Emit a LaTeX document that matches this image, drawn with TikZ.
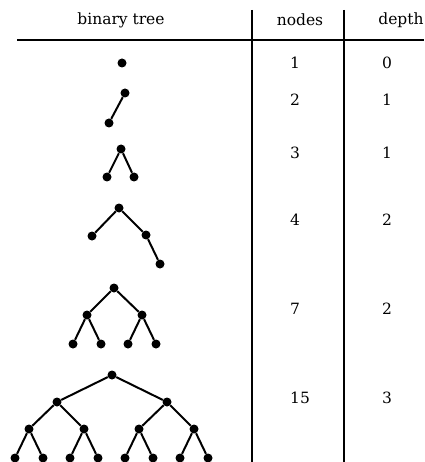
\documentclass[tikz,border=0pt]{standalone}
\usepackage{fontspec}
\setmainfont{DejaVu Serif}
\begin{document}
\begin{tikzpicture}[x=1pt,y=-1pt,
  dot/.style={circle,fill=black,inner sep=0pt,minimum size=9pt},
  edge/.style={line width=2pt},
  rule/.style={line width=1.2pt},
  lbl/.style={font=\fontsize{15.5}{18}\selectfont,inner sep=0pt,anchor=center}]
\useasboundingbox (0,0) rectangle (424,462);
% headers
\node[lbl] (h1) at (121,20) {binary tree};
\node[lbl] (h2) at (300,20) {nodes};
\node[lbl] (h3) at (401,20) {depth};
% rules
\coordinate (hl) at (17,40);
\coordinate (hr) at (424,40);
\coordinate (v1t) at (252,10);
\coordinate (v1b) at (252,462);
\coordinate (v2t) at (344,10);
\coordinate (v2b) at (344,462);
\draw[rule] (hl) -- (hr);
\draw[rule] (v1t) -- (v1b);
\draw[rule] (v2t) -- (v2b);
% row 1
\node[dot] (a1) at (122,63) {};
\node[lbl] (n1) at (295,63) {1};
\node[lbl] (d1) at (387,63) {0};
% row 2
\node[dot] (b1) at (125,93) {};
\node[dot] (b2) at (109,123) {};
\draw[edge] (b1) -- (b2);
\node[lbl] (n2) at (295,100) {2};
\node[lbl] (d2) at (387,100) {1};
% row 3
\node[dot] (c1) at (121,149) {};
\node[dot] (c2) at (107,177) {};
\node[dot] (c3) at (134,177) {};
\draw[edge] (c2) -- (c1) -- (c3);
\node[lbl] (n3) at (295,153) {3};
\node[lbl] (d3) at (387,153) {1};
% row 4
\node[dot] (e1) at (119,208) {};
\node[dot] (e2) at (92,236) {};
\node[dot] (e3) at (146,235) {};
\node[dot] (e4) at (160,264) {};
\draw[edge] (e2) -- (e1) -- (e3) -- (e4);
\node[lbl] (n4) at (295,220) {4};
\node[lbl] (d4) at (387,220) {2};
% row 5
\node[dot] (f1) at (114,288) {};
\node[dot] (f2) at (87,315) {};
\node[dot] (f3) at (142,315) {};
\node[dot] (f4) at (73,344) {};
\node[dot] (f5) at (101,344) {};
\node[dot] (f6) at (128,344) {};
\node[dot] (f7) at (156,344) {};
\draw[edge] (f2) -- (f1) -- (f3);
\draw[edge] (f4) -- (f2) -- (f5);
\draw[edge] (f6) -- (f3) -- (f7);
\node[lbl] (n5) at (295,309) {7};
\node[lbl] (d5) at (387,309) {2};
% row 6
\node[dot] (g1) at (112,375) {};
\node[dot] (g2) at (57,402) {};
\node[dot] (g3) at (167,402) {};
\node[dot] (g4) at (29,429) {};
\node[dot] (g5) at (84,429) {};
\node[dot] (g6) at (139,429) {};
\node[dot] (g7) at (194,429) {};
\node[dot] (g8) at (15,458) {};
\node[dot] (g9) at (43,458) {};
\node[dot] (g10) at (70,458) {};
\node[dot] (g11) at (98,458) {};
\node[dot] (g12) at (125,458) {};
\node[dot] (g13) at (153,458) {};
\node[dot] (g14) at (180,458) {};
\node[dot] (g15) at (208,458) {};
\draw[edge] (g2) -- (g1) -- (g3);
\draw[edge] (g4) -- (g2) -- (g5);
\draw[edge] (g6) -- (g3) -- (g7);
\draw[edge] (g8) -- (g4) -- (g9);
\draw[edge] (g10) -- (g5) -- (g11);
\draw[edge] (g12) -- (g6) -- (g13);
\draw[edge] (g14) -- (g7) -- (g15);
\node[lbl] (n6) at (300,398) {15};
\node[lbl] (d6) at (387,398) {3};
\end{tikzpicture}
\end{document}
